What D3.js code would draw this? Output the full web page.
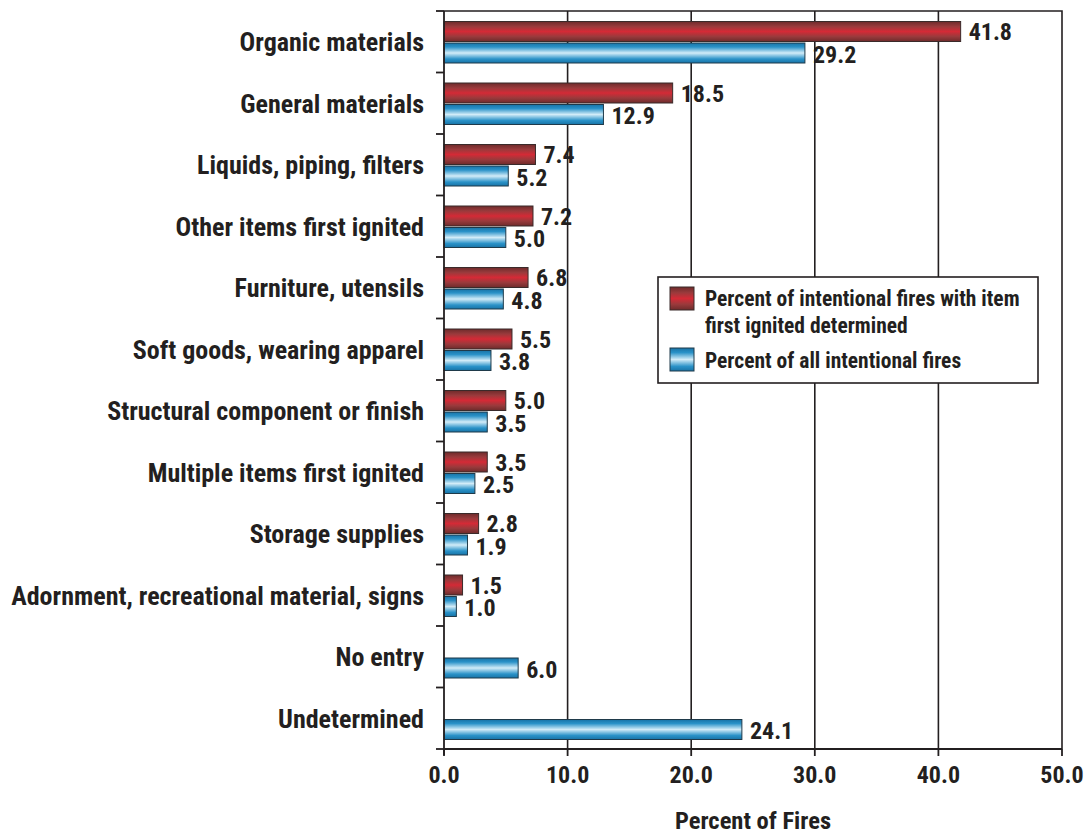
<!DOCTYPE html>
<html><head><meta charset="utf-8">
<script src="https://cdn.jsdelivr.net/npm/d3@7"></script>
<style>
body{margin:0;background:#fff;}
svg text{font-family:"Liberation Sans Narrow","Roboto Condensed","Arial Narrow",sans-serif;font-weight:bold;fill:#231f20;}
</style></head>
<body><svg id="c" width="1089" height="834"></svg>
<script>
const categories = ["Organic materials","General materials","Liquids, piping, filters","Other items first ignited","Furniture, utensils","Soft goods, wearing apparel","Structural component or finish","Multiple items first ignited","Storage supplies","Adornment, recreational material, signs","No entry","Undetermined"];
const pctDetermined = [41.8,18.5,7.4,7.2,6.8,5.5,5.0,3.5,2.8,1.5,null,null];
const pctAll = [29.2,12.9,5.2,5.0,4.8,3.8,3.5,2.5,1.9,1.0,6.0,24.1];
const xTicks = [0,10,20,30,40,50];
const seriesNames = ["Percent of intentional fires with item first ignited determined","Percent of all intentional fires"];

(function(){
const svg = d3.select("#c");
const L = 444, R = 1062, T = 11, B = 749;
const x = d3.scaleLinear().domain([0,50]).range([L,R]);
const y = d3.scaleBand().domain(categories).range([T,B]);
const bw = y.bandwidth();

const defs = svg.append("defs");
function grad(id, stops){
  const g = defs.append("linearGradient").attr("id",id).attr("x1",0).attr("x2",0).attr("y1",0).attr("y2",1);
  stops.forEach(s=>g.append("stop").attr("offset",s[0]).attr("stop-color",s[1]));
}
grad("gRed",[[0,"#6e2b2b"],[0.25,"#9a3a3c"],[0.5,"#d42a36"],[0.75,"#9a3a3c"],[1,"#6e2b2b"]]);
grad("gBlue",[[0,"#1873a6"],[0.2,"#2a92c8"],[0.5,"#d2ecf8"],[0.8,"#2a92c8"],[1,"#1873a6"]]);

svg.append("g").selectAll("line").data(xTicks.slice(1,-1)).join("line")
  .attr("x1",d=>x(d)).attr("x2",d=>x(d)).attr("y1",T).attr("y2",B)
  .attr("stroke","#231f20").attr("stroke-width",1.6);
svg.append("path").attr("d",`M${L},${T}H${R}V${B}`).attr("fill","none").attr("stroke","#231f20").attr("stroke-width",1.6);

const barH = 20;
const offRed = 10.5, offBlue = 32;
const redData = categories.map((c,i)=>({c,v:pctDetermined[i]})).filter(d=>d.v!=null);
const blueData = categories.map((c,i)=>({c,v:pctAll[i]}));
const g = svg.append("g");
g.selectAll("rect.r").data(redData).join("rect").attr("class","r")
  .attr("x",x(0)).attr("y",d=>y(d.c)+offRed).attr("width",d=>x(d.v)-x(0)).attr("height",barH)
  .attr("fill","url(#gRed)").attr("stroke","#3a2a2a").attr("stroke-width",1);
g.selectAll("rect.b").data(blueData).join("rect").attr("class","b")
  .attr("x",x(0)).attr("y",d=>y(d.c)+offBlue).attr("width",d=>x(d.v)-x(0)).attr("height",barH)
  .attr("fill","url(#gBlue)").attr("stroke","#1f3a4a").attr("stroke-width",1);

g.selectAll("text.r").data(redData).join("text").attr("class","r")
  .attr("x",d=>x(d.v)+8).attr("y",d=>y(d.c)+offRed+barH/2).attr("dy","0.36em")
  .style("font-size","24px").text(d=>d.v.toFixed(1));
g.selectAll("text.b").data(blueData).join("text").attr("class","b")
  .attr("x",d=>x(d.v)+8).attr("y",d=>y(d.c)+offBlue+barH/2+1).attr("dy","0.36em")
  .style("font-size","24px").text(d=>d.v.toFixed(1));

const ya = svg.append("g");
ya.append("line").attr("x1",L).attr("x2",L).attr("y1",T).attr("y2",B+6).attr("stroke","#231f20").attr("stroke-width",1.8);
const bounds = categories.map(c=>y(c)).concat([B]);
ya.selectAll("line.t").data(bounds).join("line").attr("class","t")
  .attr("x1",L-8).attr("x2",L).attr("y1",d=>d).attr("y2",d=>d).attr("stroke","#231f20").attr("stroke-width",1.8);
ya.selectAll("text").data(categories).join("text")
  .attr("x",424).attr("y",d=>y(d)+bw/2).attr("dy","0.36em").attr("text-anchor","end")
  .style("font-size","26px").text(d=>d);

const xa = svg.append("g");
xa.append("line").attr("x1",L).attr("x2",R).attr("y1",B).attr("y2",B).attr("stroke","#231f20").attr("stroke-width",2);
xa.selectAll("line.t").data(xTicks).join("line").attr("class","t")
  .attr("x1",d=>x(d)).attr("x2",d=>x(d)).attr("y1",B).attr("y2",B+7).attr("stroke","#231f20").attr("stroke-width",1.8);
xa.selectAll("text").data(xTicks).join("text")
  .attr("x",d=>x(d)).attr("y",774).attr("dy","0.36em").attr("text-anchor","middle")
  .style("font-size","24px").text(d=>d.toFixed(1));
svg.append("text").attr("x",753).attr("y",820).attr("dy","0.36em").attr("text-anchor","middle")
  .style("font-size","24.5px").text("Percent of Fires");

const lg = svg.append("g");
lg.append("rect").attr("x",658).attr("y",277).attr("width",380).attr("height",106)
  .attr("fill","#fff").attr("stroke","#231f20").attr("stroke-width",1.6);
lg.append("rect").attr("x",670).attr("y",287).attr("width",24).attr("height",23).attr("fill","url(#gRed)").attr("stroke","#3a2a2a");
lg.append("rect").attr("x",670).attr("y",348).attr("width",24).attr("height",23).attr("fill","url(#gBlue)").attr("stroke","#1f3a4a");
const t1 = lg.append("text").attr("x",705).attr("y",306).style("font-size","21.5px");
t1.append("tspan").attr("x",705).text("Percent of intentional fires with item");
t1.append("tspan").attr("x",705).attr("dy",27).text("first ignited determined");
lg.append("text").attr("x",705).attr("y",368).style("font-size","21.5px").text(seriesNames[1]);
})();
</script></body></html>
